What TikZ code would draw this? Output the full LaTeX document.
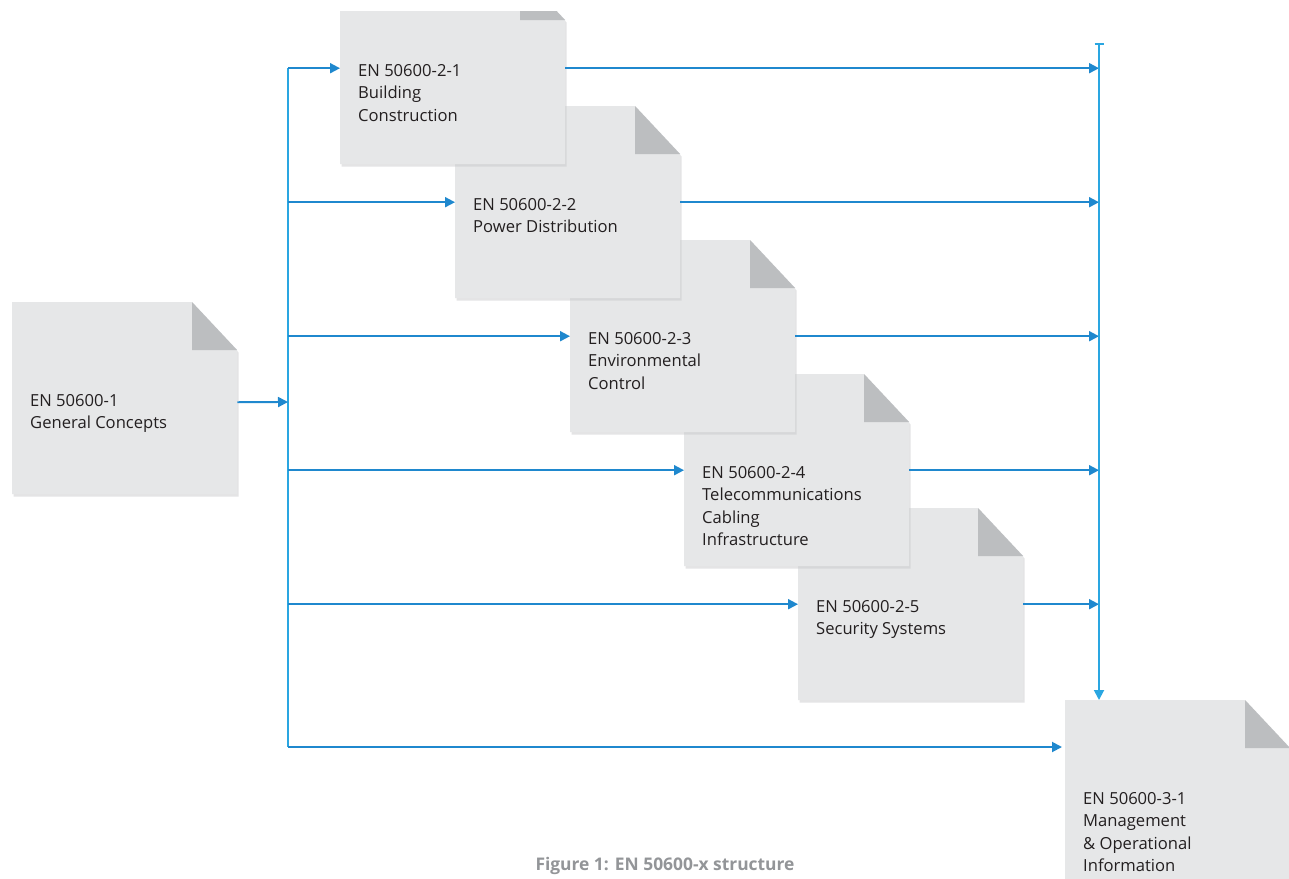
\documentclass[tikz,border=0pt]{standalone}
\usepackage{fontspec}
\setmainfont{Open Sans}
\usetikzlibrary{arrows.meta}
\definecolor{docfill}{HTML}{E6E7E8}
\definecolor{foldfill}{HTML}{BCBEC0}
\definecolor{shadowc}{HTML}{C4C5C7}
\definecolor{hblue}{HTML}{1F88CE}
\definecolor{vblue}{HTML}{2AA6E1}
\definecolor{txt}{HTML}{231F20}
\definecolor{capc}{HTML}{939598}
\tikzset{
 docbox/.style={inner sep=0pt, minimum width=225pt, minimum height=192pt, anchor=north west},
 doctext/.style={inner sep=0pt, anchor=north west, align=left, text=txt, font=\fontsize{16.6}{22.5}\selectfont},
 harrow/.style={draw=hblue, line width=1.9pt, -{Triangle[length=10pt,width=10pt]}},
 vline/.style={draw=vblue, line width=1.9pt},
}
\newcommand\docpage[4]{%
 \fill[shadowc, opacity=.45] (#2+1.5,#3+2.5) -- (#2+181.5,#3+2.5) -- (#2+226.5,#3+50.5) -- (#2+226.5,#3+194.5) -- (#2+1.5,#3+194.5) -- cycle;
 \fill[docfill] (#2,#3) -- (#2+180,#3) -- (#2+225,#3+48) -- (#2+225,#3+192) -- (#2,#3+192) -- cycle;
 \fill[foldfill] (#2+180,#3) -- (#2+180,#3+48) -- (#2+225,#3+48) -- cycle;
 \node[docbox] (#1) at (#2,#3) {};
 \node[doctext] (#1t) at (#2+18,#3+91.8) {#4};
}
\begin{document}
\begin{tikzpicture}[x=1pt,y=-1pt]
\useasboundingbox (0,0) rectangle (1289,878);
\clip (0,0) rectangle (1289,878);
\fill[white] (0,0) rectangle (1289,878);
\docpage{n31}{1065}{700}{EN 50600-3-1\\Management\\\& Operational\\Information}
\docpage{n25}{798}{508}{EN 50600-2-5\\Security Systems}
\docpage{n24}{684}{374}{EN 50600-2-4\\Telecommunications\\Cabling\\Infrastructure}
\docpage{n23}{570}{240}{EN 50600-2-3\\Environmental\\Control}
\docpage{n22}{455}{106}{EN 50600-2-2\\Power Distribution}
\begin{scope}
\clip (0,11) rectangle (1289,878);
\docpage{n21}{340}{-28}{EN 50600-2-1\\Building\\Construction}
\end{scope}
\docpage{d1}{12}{302}{EN 50600-1\\General Concepts}
% trunk coordinates
\coordinate (lt) at (288,68);
\coordinate (lb) at (288,747);
\coordinate (j1) at (288,402);
\coordinate (rt) at (1099,43);
% left trunk
\draw[vline] (lt) -- (lb);
\draw[harrow] ([yshift=-4pt]d1.east) -- (j1);
\foreach \n in {n21,n22,n23,n24,n25}{
 \draw[harrow] (lt |- \n.west) -- (\n.west);
 \draw[harrow] (\n.east) -- (\n.east -| rt);
}
\draw[harrow, shorten >=3pt] (lb) -- (lb -| n31.west);
% right collector
\draw[vline, {Bar[width=9pt]}-{Triangle[length=10pt,width=10pt]}] (rt) -- (rt |- n31.north);
\node[font=\bfseries\fontsize{17.4}{20}\selectfont, text=capc] (cap) at (665,866) {Figure 1: EN 50600-x structure};
\end{tikzpicture}
\end{document}
